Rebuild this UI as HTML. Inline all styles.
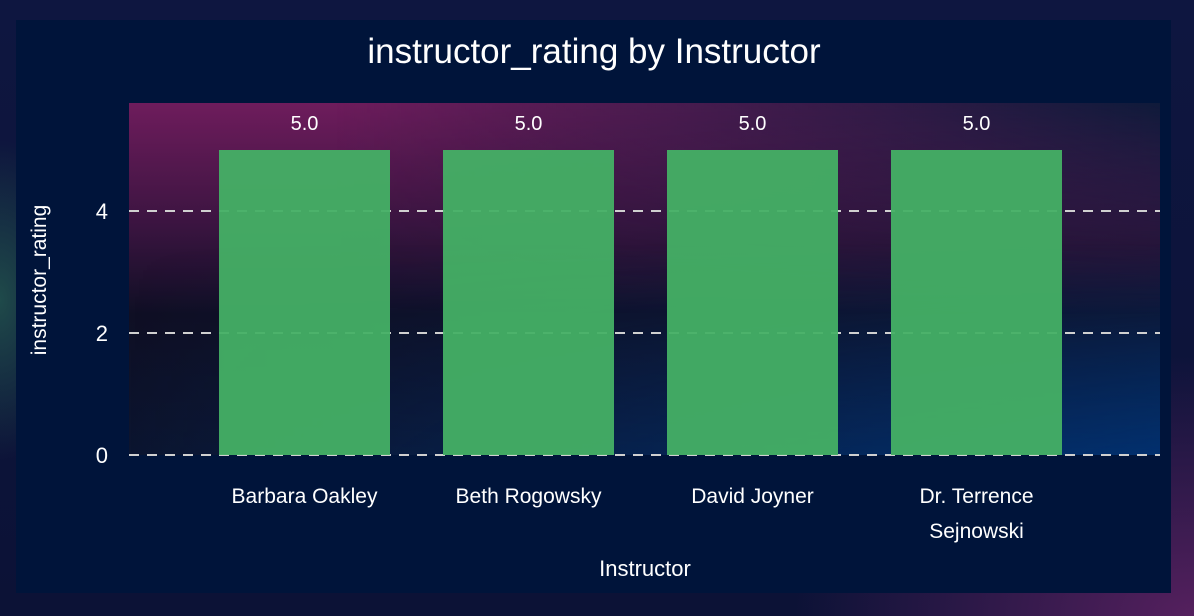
<!DOCTYPE html>
<html><head><meta charset="utf-8"><style>
html,body{margin:0;padding:0;width:1194px;height:616px;overflow:hidden;background:#0a1236;}
#bg{position:absolute;left:0;top:0;width:1194px;height:616px;background:
radial-gradient(ellipse 400px 260px at 1194px 616px,#55205e 0%,rgba(74,30,88,0) 100%),
radial-gradient(ellipse 80px 160px at 0px 300px,#1f4a4a 0%,rgba(31,74,74,0) 100%),
linear-gradient(#0e1640,#0c1236);}
svg{position:absolute;left:0;top:0;}
text{font-family:"Liberation Sans","DejaVu Sans",sans-serif;fill:#fff;}
</style></head><body>
<div id="bg"></div>
<svg width="1194" height="616">
<defs>
<linearGradient id="pg" x1="0" y1="0" x2="0" y2="1">
<stop offset="0" stop-color="#6e1c5c"/><stop offset="0.35" stop-color="#3a1440"/><stop offset="0.6" stop-color="#0f0f24"/><stop offset="1" stop-color="#0b1530"/>
</linearGradient>
<linearGradient id="pb" x1="0" y1="0" x2="1" y2="0">
<stop offset="0" stop-color="#02306e" stop-opacity="0"/><stop offset="0.5" stop-color="#02306e" stop-opacity="0.5"/><stop offset="1" stop-color="#02306e" stop-opacity="1"/>
</linearGradient>
<linearGradient id="pr" x1="0" y1="0" x2="1" y2="0">
<stop offset="0.2" stop-color="#0e1a3a" stop-opacity="0"/><stop offset="0.7" stop-color="#0e1a3a" stop-opacity="0.6"/><stop offset="1" stop-color="#0e1a3a" stop-opacity="1"/>
</linearGradient>
<linearGradient id="pm" x1="0" y1="0" x2="0" y2="1">
<stop offset="0.4" stop-color="#fff" stop-opacity="0"/><stop offset="1" stop-color="#fff" stop-opacity="1"/>
</linearGradient>
<linearGradient id="pt" x1="0" y1="0" x2="0" y2="1">
<stop offset="0" stop-color="#fff" stop-opacity="1"/><stop offset="0.6" stop-color="#fff" stop-opacity="0"/>
</linearGradient>
<mask id="mk"><rect x="129" y="103" width="1031" height="352" fill="url(#pm)"/></mask>
<mask id="mt"><rect x="129" y="103" width="1031" height="352" fill="url(#pt)"/></mask>
</defs>
<rect x="16" y="20" width="1155" height="573" fill="#00143a"/>
<rect x="129" y="103" width="1031" height="352" fill="url(#pg)"/>
<rect x="129" y="103" width="1031" height="352" fill="url(#pr)" mask="url(#mt)"/>
<rect x="129" y="103" width="1031" height="352" fill="url(#pb)" mask="url(#mk)"/>
<g id="grid"></g><g id="bars"></g><g id="labels"></g>
<text x="594" y="63" font-size="35" text-anchor="middle">instructor_rating by Instructor</text>
<text x="645" y="576" font-size="22" text-anchor="middle">Instructor</text>
<text transform="translate(46,280) rotate(-90)" font-size="21" text-anchor="middle">instructor_rating</text>
</svg>
<script>
const categories=["Barbara Oakley","Beth Rogowsky","David Joyner","Dr. Terrence|Sejnowski"];
const values=[5.0,5.0,5.0,5.0];
const yTicks=[0,2,4];
const NS="http://www.w3.org/2000/svg";
function y(v){return 455-61*v;}
function xc(i){return 304.5+224*i;}
function mk(t,a,p){const e=document.createElementNS(NS,t);for(const k in a)e.setAttribute(k,a[k]);p.appendChild(e);return e;}
const grid=document.getElementById('grid'),bars=document.getElementById('bars'),labels=document.getElementById('labels');
yTicks.forEach(t=>{
 const l=mk('line',{x1:129,x2:1160,y1:y(t),y2:y(t),stroke:'#d0d0d0','stroke-width':2,'stroke-dasharray':'10 8'},grid);
 
 
 const tx=mk('text',{x:108,y:y(t)+8,'font-size':22,'text-anchor':'end'},labels);
 tx.textContent=t;
 
 
});
values.forEach((v,i)=>{
 const r=mk('rect',{x:xc(i)-85.5,y:y(v),width:171,height:y(0)-y(v),fill:'#45b065','fill-opacity':0.95},bars);
 
 
 const vt=mk('text',{x:xc(i),y:y(v)-20,'font-size':20,'text-anchor':'middle'},labels);
 vt.textContent=v.toFixed(1);
 
 
 categories[i].split('|').forEach((ln,j)=>{
  const ct=mk('text',{x:xc(i),y:503+j*35,'font-size':21,'text-anchor':'middle'},labels);
  ct.textContent=ln;
  
  
 });
});
</script>
</body></html>
